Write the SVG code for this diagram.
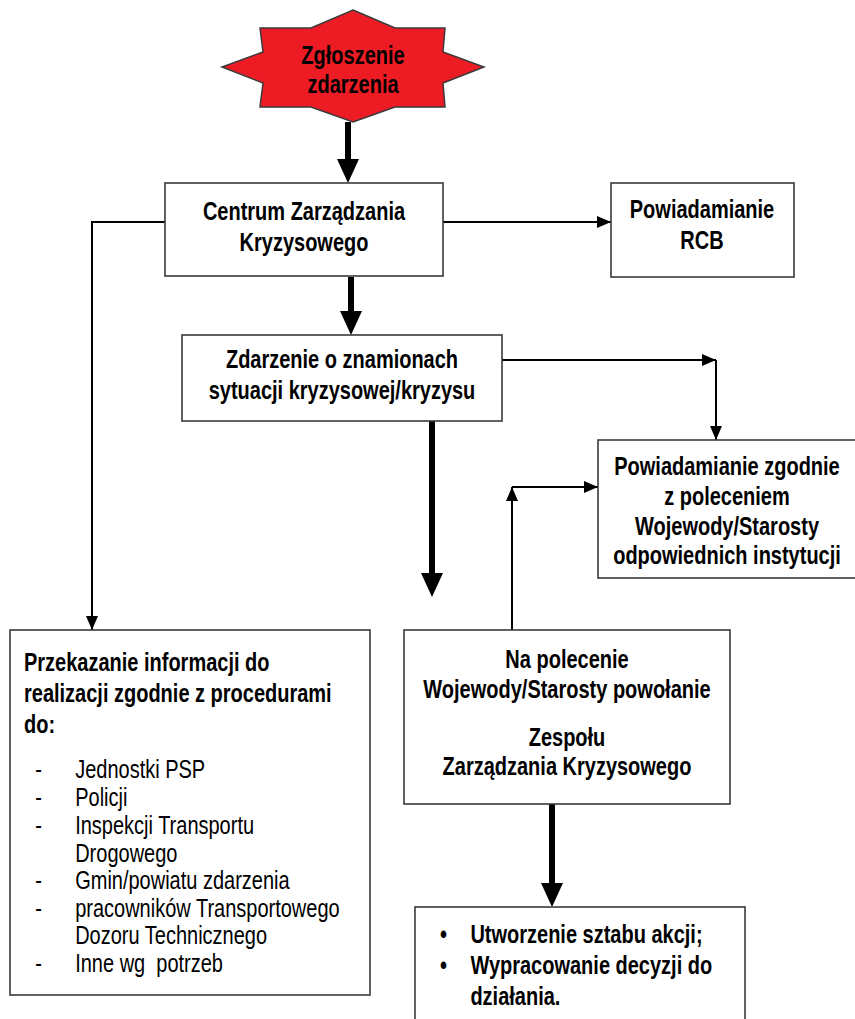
<svg xmlns="http://www.w3.org/2000/svg" width="855" height="1019" viewBox="0 0 855 1019">
  <style>
    .box { fill: #ffffff; stroke: #3a3a3a; stroke-width: 1.6; }
    .t { font-family: "Liberation Sans", Arial, sans-serif; font-weight: bold; font-size: 25px; fill: #000; }
    .c { text-anchor: middle; }
    .n { font-family: "Liberation Sans", Arial, sans-serif; font-size: 25px; fill: #000; }
    .thin { fill: none; stroke: #000; stroke-width: 2; }
    .thick { fill: none; stroke: #000; stroke-width: 6; }
  </style>
  <defs>
    <marker id="headThin" viewBox="0 0 14 12" refX="14" refY="6" markerWidth="14" markerHeight="12" markerUnits="userSpaceOnUse" orient="auto">
      <path d="M0,0 L14,6 L0,12 Z" fill="#000"/>
    </marker>
    <marker id="headThick" viewBox="0 0 24 22" refX="10" refY="11" markerWidth="24" markerHeight="22" markerUnits="userSpaceOnUse" orient="auto">
      <path d="M0,0 L24,11 L0,22 Z" fill="#000"/>
    </marker>
  </defs>

  <!-- connectors: thick main flow, thin notification lines -->
  <g id="connectors">
    <path class="thick" d="M348,122 V169" marker-end="url(#headThick)"/>
    <path class="thick" d="M351,277 V321" marker-end="url(#headThick)"/>
    <path class="thick" d="M432,421 V583" marker-end="url(#headThick)"/>
    <path class="thick" d="M552,804 V893" marker-end="url(#headThick)"/>
    <path class="thin" d="M443,222 H611" marker-end="url(#headThin)"/>
    <path class="thin" d="M165,222 H92 V630" marker-end="url(#headThin)"/>
    <path class="thin" d="M502,360 H716" marker-end="url(#headThin)"/>
    <path class="thin" d="M716,360 V440" marker-end="url(#headThin)"/>
    <path class="thin" d="M512,630 V487" marker-end="url(#headThin)"/>
    <path class="thin" d="M512,487 H598" marker-end="url(#headThin)"/>
  </g>

  <g id="zgloszenie">
    <polygon points="353,10 395,28 445,28 443,52 484,67 443,83 445,107 395,107 353,122 311,107 260,107 263,83 222,67 263,52 260,28 311,28" fill="#ed1c24" stroke="#3a3a3a" stroke-width="1.5"/>
    <g transform="translate(353 0) scale(0.8 1)">
      <text class="t c" x="0" y="64">Zgłoszenie</text>
      <text class="t c" x="0" y="93">zdarzenia</text>
    </g>
  </g>

  <g id="centrum">
    <rect class="box" x="165" y="183" width="278" height="93"/>
    <g transform="translate(304 0) scale(0.8 1)">
      <text class="t c" x="0" y="220">Centrum Zarządzania</text>
      <text class="t c" x="0" y="251">Kryzysowego</text>
    </g>
  </g>

  <g id="rcb">
    <rect class="box" x="611" y="183" width="183" height="94"/>
    <g transform="translate(702 0) scale(0.8 1)">
      <text class="t c" x="0" y="218">Powiadamianie</text>
      <text class="t c" x="0" y="249">RCB</text>
    </g>
  </g>

  <g id="zdarzenie">
    <rect class="box" x="182" y="335" width="320" height="86"/>
    <g transform="translate(342 0) scale(0.8 1)">
      <text class="t c" x="0" y="368">Zdarzenie o znamionach</text>
      <text class="t c" x="0" y="399">sytuacji kryzysowej/kryzysu</text>
    </g>
  </g>

  <g id="powiadamianie">
    <rect class="box" x="598" y="440" width="262" height="138"/>
    <g transform="translate(727 0) scale(0.8 1)">
      <text class="t c" x="0" y="475">Powiadamianie zgodnie</text>
      <text class="t c" x="0" y="505">z poleceniem</text>
      <text class="t c" x="0" y="535">Wojewody/Starosty</text>
      <text class="t c" x="0" y="564">odpowiednich instytucji</text>
    </g>
  </g>

  <g id="przekazanie">
    <rect class="box" x="10" y="630" width="360" height="365"/>
    <g transform="scale(0.8 1)">
      <text class="t" x="30" y="671">Przekazanie informacji do</text>
      <text class="t" x="30" y="702">realizacji zgodnie z procedurami</text>
      <text class="t" x="30" y="733">do:</text>
      <g class="n">
        <text x="44" y="778">-</text><text x="94" y="778">Jednostki PSP</text>
        <text x="44" y="806">-</text><text x="94" y="806">Policji</text>
        <text x="44" y="834">-</text><text x="94" y="834">Inspekcji Transportu</text>
        <text x="94" y="862">Drogowego</text>
        <text x="44" y="889">-</text><text x="94" y="889">Gmin/powiatu zdarzenia</text>
        <text x="44" y="917">-</text><text x="94" y="917">pracowników Transportowego</text>
        <text x="94" y="944">Dozoru Technicznego</text>
        <text x="44" y="972">-</text><text x="94" y="972" xml:space="preserve">Inne wg  potrzeb</text>
      </g>
    </g>
  </g>

  <g id="zespol">
    <rect class="box" x="404" y="630" width="326" height="174"/>
    <g transform="translate(567 0) scale(0.8 1)">
      <text class="t c" x="0" y="668">Na polecenie</text>
      <text class="t c" x="0" y="698">Wojewody/Starosty powołanie</text>
      <text class="t c" x="0" y="746">Zespołu</text>
      <text class="t c" x="0" y="775">Zarządzania Kryzysowego</text>
    </g>
  </g>

  <g id="sztab">
    <rect class="box" x="415" y="907" width="330" height="125"/>
    <g transform="scale(0.8 1)">
      <text class="t" x="550" y="943">•</text><text class="t" x="588" y="943">Utworzenie sztabu akcji;</text>
      <text class="t" x="550" y="974">•</text><text class="t" x="588" y="974">Wypracowanie decyzji do</text>
      <text class="t" x="588" y="1005">działania.</text>
    </g>
  </g>
</svg>
